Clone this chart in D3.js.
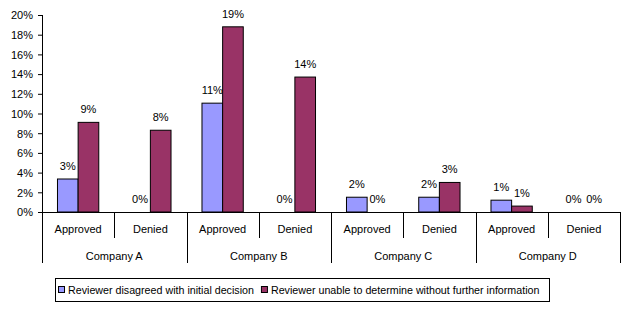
<!DOCTYPE html>
<html>
<head>
<meta charset="utf-8">
<script src="https://cdn.jsdelivr.net/npm/d3@7"></script>
<style>
body { margin: 0; background: #fff; }
text { font-family: Arial, "Liberation Sans", sans-serif; font-size: 11px; fill: #000; }
</style>
</head>
<body>
<script>
const companies = ["Company A", "Company B", "Company C", "Company D"];
const decisions = ["Approved", "Denied"];
const seriesNames = ["Reviewer disagreed with initial decision", "Reviewer unable to determine without further information"];
// values per company/decision, in percent
const disagreed = [3.35, 0, 11.05, 0, 1.5, 1.5, 1.2, 0];
const unable = [9.1, 8.3, 18.8, 13.7, 0, 3.0, 0.6, 0];
const yTicks = [0, 2, 4, 6, 8, 10, 12, 14, 16, 18, 20];
const colors = ["#9999FF", "#993366"];

const width = 631, height = 311;
const mLeft = 42, mRight = 620, mTop = 15, mBottom = 212;

const svg = d3.select("body").append("svg")
    .attr("width", width).attr("height", height);

const cats = [];
companies.forEach(c => decisions.forEach(d => cats.push(c + "|" + d)));

const x0 = d3.scaleBand().domain(cats).range([mLeft, mRight]).paddingInner(0).paddingOuter(0);
const x1 = d3.scaleBand().domain([0, 1]).range([0, x0.bandwidth()]).paddingInner(0).paddingOuter(0.75);
const y = d3.scaleLinear().domain([0, 20]).range([mBottom, mTop]);

// y axis
const yAxis = svg.append("g")
    .attr("transform", `translate(${mLeft},0)`)
    .call(d3.axisLeft(y).tickValues(yTicks).tickFormat(d => d + "%").tickSize(4).tickSizeOuter(0).tickPadding(5));
yAxis.select(".domain").remove();
yAxis.selectAll("line").attr("stroke", "#000");
yAxis.selectAll("text").style("font-size", "11px").attr("dy", "0.35em");

// bars
const rows = cats.map((c, i) => ({cat: c, vals: [disagreed[i], unable[i]]}));
const groups = svg.selectAll("g.grp").data(rows).join("g")
    .attr("class", "grp")
    .attr("transform", d => `translate(${x0(d.cat)},0)`);

groups.selectAll("rect").data(d => d.vals.map((v, s) => ({v, s})).filter(e => e.v > 0)).join("rect")
    .attr("x", d => x1(d.s))
    .attr("y", d => y(d.v))
    .attr("width", x1.bandwidth())
    .attr("height", d => y(0) - y(d.v))
    .attr("fill", d => colors[d.s])
    .attr("stroke", "#000")
    .attr("stroke-width", 1);

groups.selectAll("text.lbl").data(d => d.vals.map((v, s) => ({v, s}))).join("text")
    .attr("class", "lbl")
    .attr("x", d => x1(d.s) + x1.bandwidth() / 2)
    .attr("y", d => y(d.v) - 9)
    .attr("text-anchor", "middle")
    .text(d => Math.round(d.v) + "%");

// axis lines
svg.append("line").attr("x1", mLeft + 0.5).attr("x2", mLeft + 0.5).attr("y1", mTop).attr("y2", 263).attr("stroke", "#000");
svg.append("line").attr("x1", mLeft).attr("x2", mRight).attr("y1", mBottom + 0.5).attr("y2", mBottom + 0.5).attr("stroke", "#000");

// category separators
cats.forEach((c, i) => {
    const xr = x0(c) + x0.bandwidth();
    const isCompanyEnd = i % 2 === 1;
    svg.append("line")
        .attr("x1", Math.round(xr) + 0.5).attr("x2", Math.round(xr) + 0.5)
        .attr("y1", mBottom).attr("y2", isCompanyEnd ? 263 : 238)
        .attr("stroke", "#000");
    svg.append("text")
        .attr("x", x0(c) + x0.bandwidth() / 2)
        .attr("y", 233)
        .attr("text-anchor", "middle")
        .text(c.split("|")[1]);
});

companies.forEach(c => {
    const a = x0(c + "|" + decisions[0]);
    svg.append("text")
        .attr("x", a + x0.bandwidth())
        .attr("y", 260)
        .attr("text-anchor", "middle")
        .text(c);
});

// legend
const legend = svg.append("g");
legend.append("rect")
    .attr("x", 55.5).attr("y", 278.5).attr("width", 494).attr("height", 23)
    .attr("fill", "#fff").attr("stroke", "#000");
let lx = 58;
seriesNames.forEach((n, i) => {
    legend.append("rect")
        .attr("x", lx + 0.5).attr("y", 286.5).attr("width", 6).attr("height", 6)
        .attr("fill", colors[i]).attr("stroke", "#000");
    const t = legend.append("text")
        .attr("x", lx + 10).attr("y", 294)
        .style("font-size", "10.7px")
        .text(n);
    lx += 10 + t.node().getComputedTextLength() + 7;
});
</script>
</body>
</html>
